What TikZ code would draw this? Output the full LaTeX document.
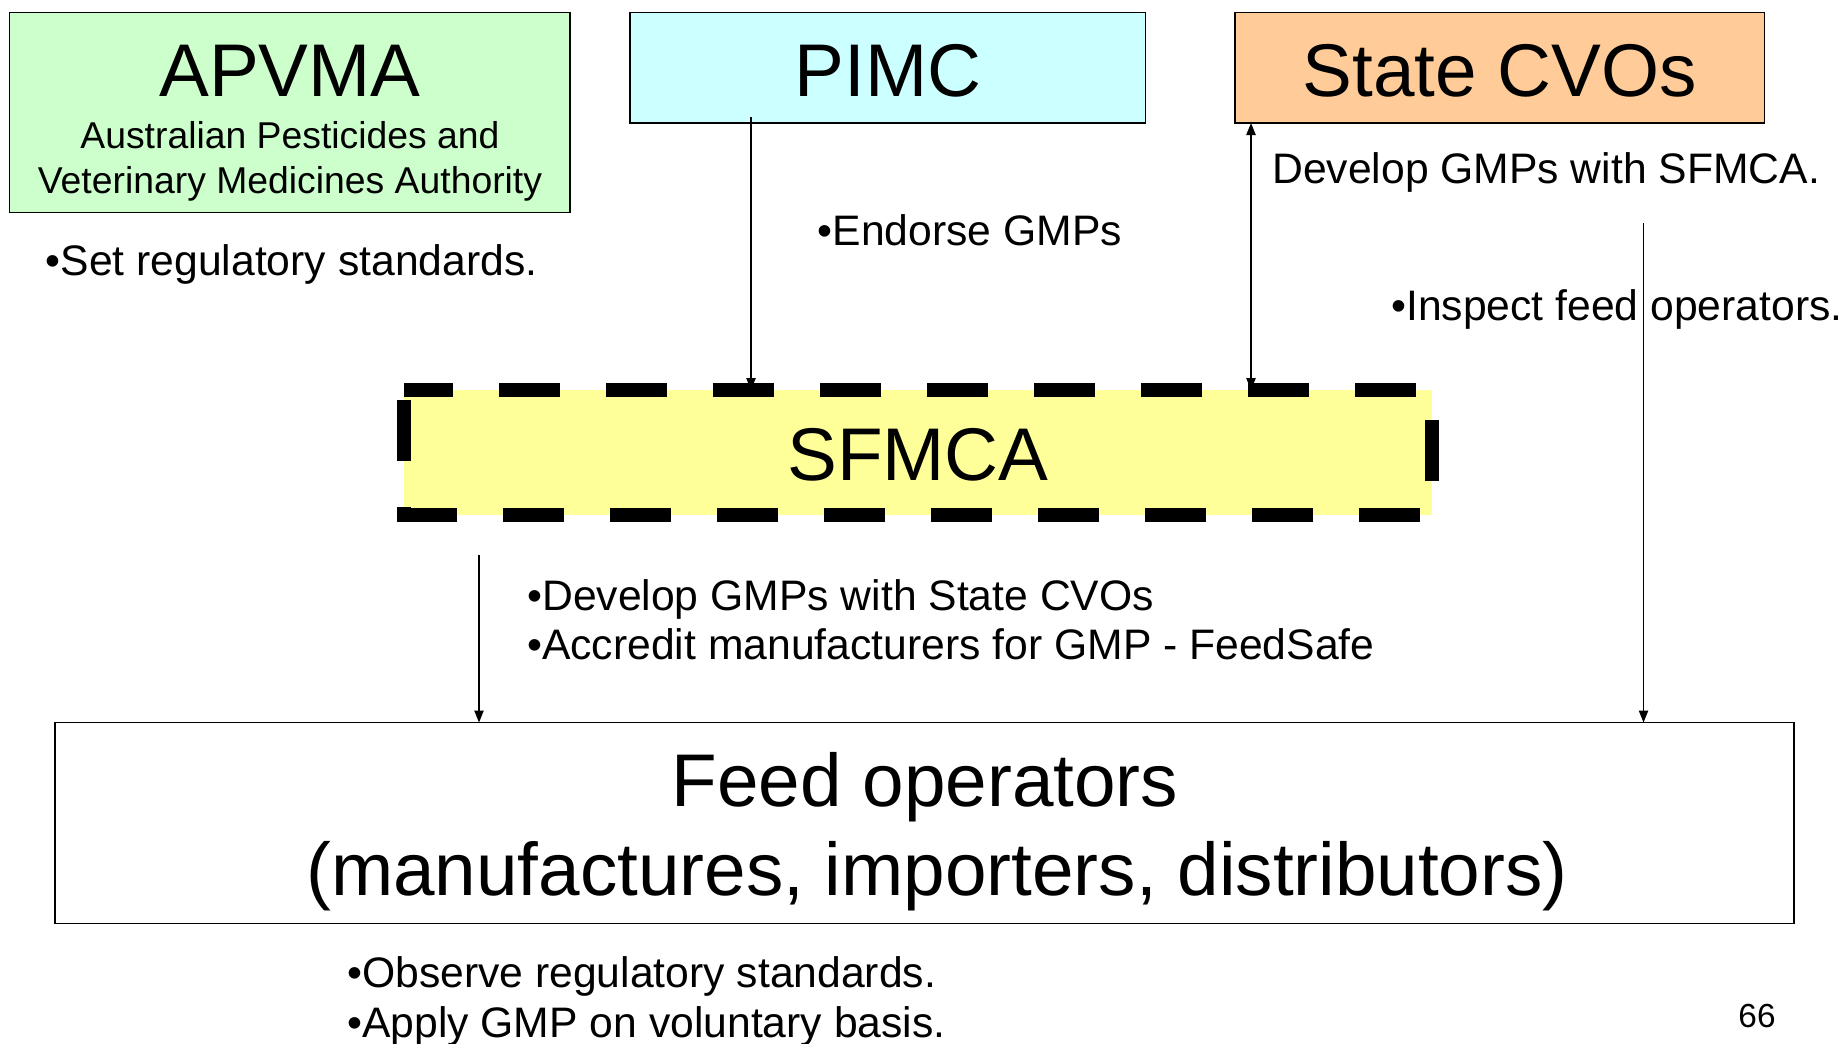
\documentclass[tikz,border=0pt]{standalone}
\usepackage{fontspec}
\setmainfont{Liberation Sans}
\usetikzlibrary{arrows.meta}
\definecolor{apgreen}{HTML}{CCFFCC}
\definecolor{pimccyan}{HTML}{CCFFFF}
\definecolor{cvoorange}{HTML}{FFCC99}
\definecolor{sfyellow}{HTML}{FFFF99}
\begin{document}
\begin{tikzpicture}[x=0.75pt,y=-0.75pt,
  box/.style={rectangle,draw=black,line width=1.1pt,inner sep=0pt,outer sep=0pt},
  big/.style={font=\fontsize{56}{67}\selectfont,inner sep=0pt,anchor=base},
  sub/.style={font=\fontsize{28}{33}\selectfont,inner sep=0pt,anchor=base},
  note/.style={font=\fontsize{32}{38}\selectfont,inner sep=0pt,anchor=base west},
  conn/.style={line width=1pt,-{Triangle[length=9pt,width=7pt]}},
  dconn/.style={line width=1pt,{Triangle[length=9pt,width=7pt]}-{Triangle[length=9pt,width=7pt]}},
  sfborder/.style={line width=10.5pt,line join=miter,dash pattern=on 45.75pt off 34.5pt,dash phase=9pt}
]
\path[fill=white,use as bounding box] (0,0) rectangle (1845,1043);

% boxes
\node[box,fill=apgreen,minimum width=420.4pt,minimum height=150pt] (apvma) at (289.75,112.5) {};
\node[box,fill=pimccyan,minimum width=386.7pt,minimum height=82.9pt] (pimc) at (887.7,67.75) {};
\node[box,fill=cvoorange,minimum width=397pt,minimum height=82.9pt] (cvo) at (1499.7,67.75) {};
\node[rectangle,fill=sfyellow,inner sep=0pt,outer sep=0pt,minimum width=771pt,minimum height=93.75pt] (sfmca) at (918,452.5) {};
\draw[sfborder] (sfmca.north west) -- (sfmca.north east) -- (sfmca.south east) -- (sfmca.south west) -- cycle;
\node[box,fill=white,minimum width=1304.3pt,minimum height=150.75pt] (feed) at (924.6,823) {};

% box texts
\node[big] (apvmat) at (290,96.7) {APVMA};
\node[sub] (apvmas1) at (290,148.3) {Australian Pesticides and};
\node[sub] (apvmas2) at (290,193.3) {Veterinary Medicines Authority};
\node[big] (pimct) at (888,96.7) {PIMC};
\node[big] (cvot) at (1500,96.7) {State CVOs};
\node[big] (sfmcat) at (918,480.5) {SFMCA};
\node[big] (feedt1) at (925,806.7) {Feed operators};
\node[big] (feedt2) at (937,895) {(manufactures, importers, distributors)};

% notes
\node[note] (setreg) at (45.5,275) {•Set regulatory standards.};
\node[note] (endorse) at (817.5,245) {•Endorse GMPs};
\node[note] (devsf) at (1272,183) {Develop GMPs with SFMCA.};
\node[note] (inspect) at (1391,320) {•Inspect feed operators.};
\node[note] (devcvo) at (527,610) {•Develop GMPs with State CVOs};
\node[note] (accredit) at (527,659) {•Accredit manufacturers for GMP - FeedSafe};
\node[note] (observe) at (347,987) {•Observe regulatory standards.};
\node[note] (apply) at (347,1037) {•Apply GMP on voluntary basis.};
\node[font=\fontsize{25}{30}\selectfont,inner sep=0pt,anchor=base] (pagenum) at (1757,1027) {66};

% connectors
\coordinate (p1) at (751,117);
\draw[conn] (p1) -- (p1 |- sfmca.north);
\coordinate (c1) at (1251,123);
\draw[dconn] (c1) -- (c1 |- sfmca.north);
\coordinate (s1) at (479,555);
\draw[conn] (s1) -- (s1 |- feed.north);
\coordinate (r1) at (1643.5,223);
\draw[conn] (r1) -- (r1 |- feed.north);
\end{tikzpicture}
\end{document}
